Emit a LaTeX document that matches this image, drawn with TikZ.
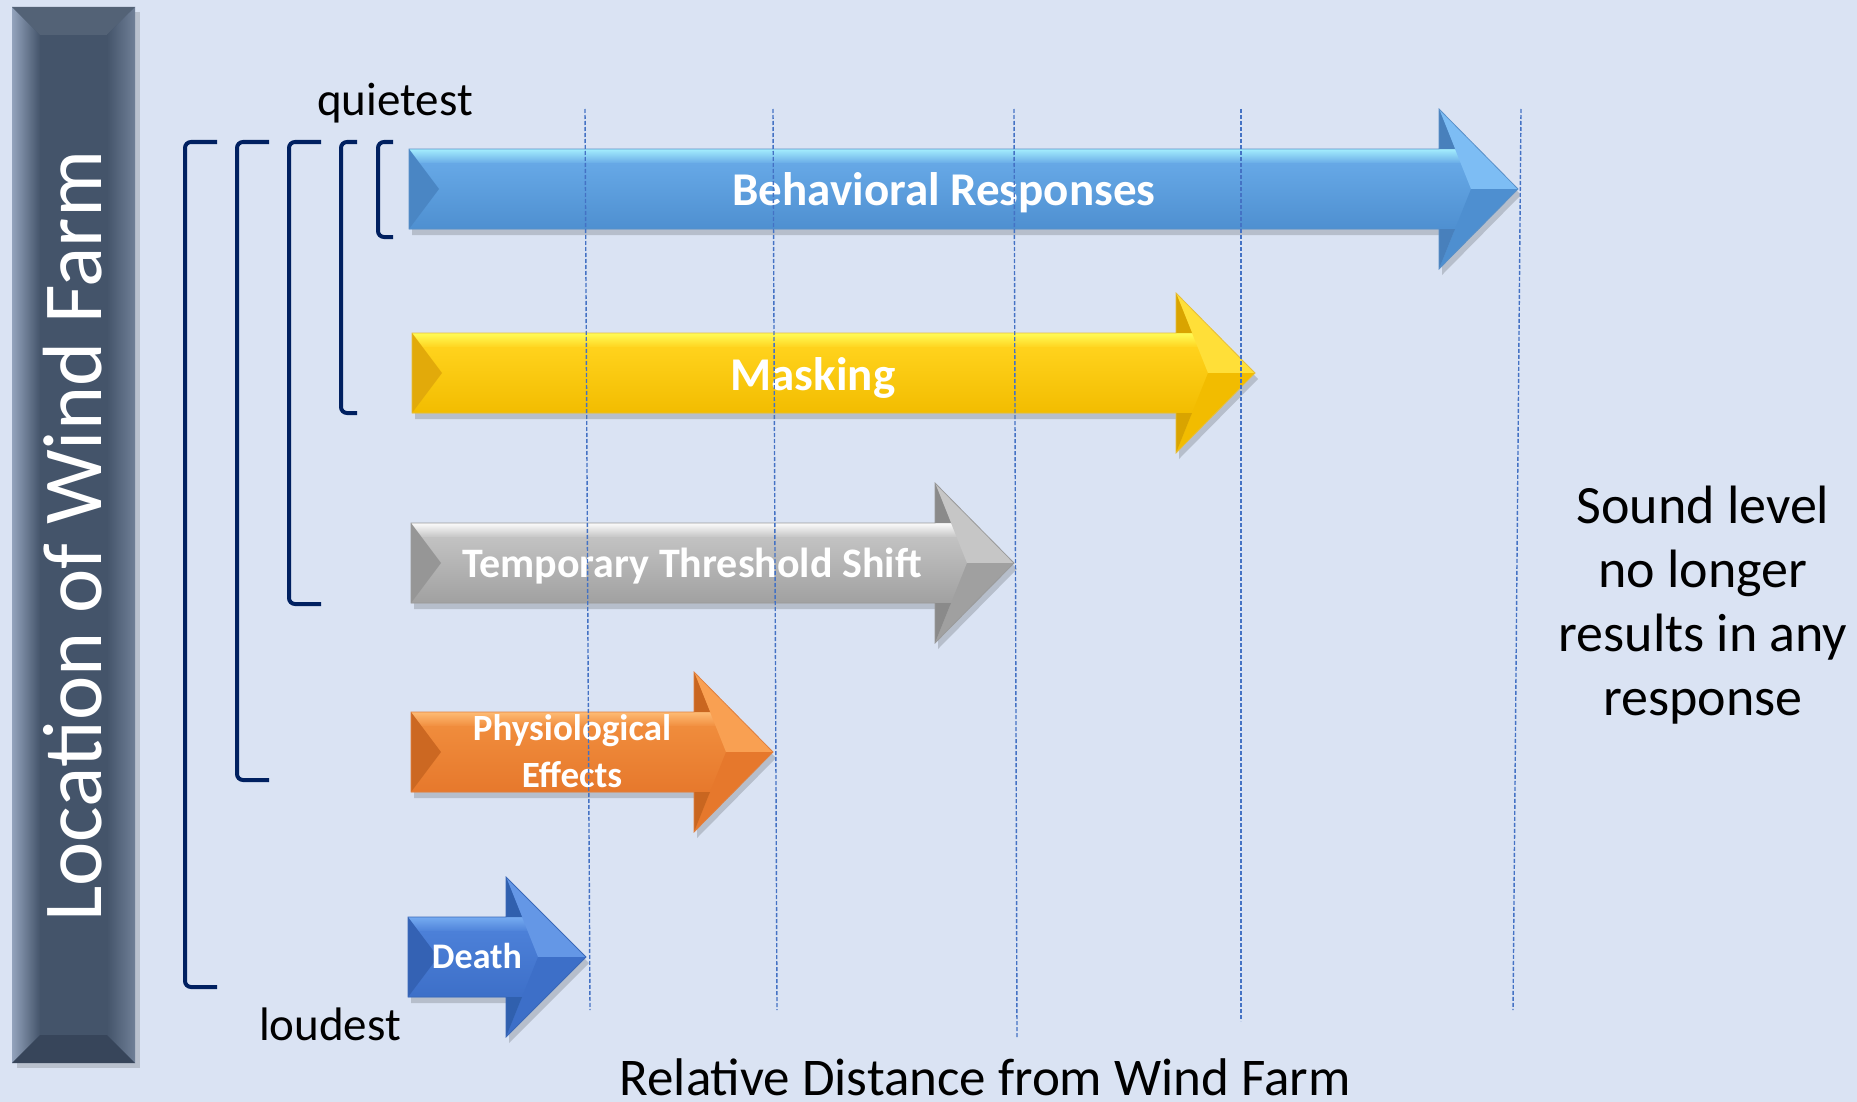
\documentclass[tikz,border=0pt]{standalone}
\usepackage{fontspec}
\setmainfont{Carlito}

\definecolor{bg}{HTML}{DAE3F3}
\definecolor{slate}{HTML}{44546A}
\definecolor{slatelight}{HTML}{93A3BC}
\definecolor{slatedark}{HTML}{37455A}
\definecolor{navy}{HTML}{002060}
\definecolor{guideblue}{HTML}{4472C4}

% colour sets: hi, mid, lo, face, ear, tail, edge
\definecolor{behavhi}{HTML}{A8F2FF}  \definecolor{behavmid}{HTML}{66A8E6}
\definecolor{behavlo}{HTML}{4E8FD0}  \definecolor{behavface}{HTML}{7DBDF4}
\definecolor{behavear}{HTML}{4880BC} \definecolor{behavtail}{HTML}{4A86C4}
\definecolor{behavedge}{HTML}{5A90C8}
\definecolor{maskhi}{HTML}{FFFF5C}   \definecolor{maskmid}{HTML}{FFD21C}
\definecolor{masklo}{HTML}{F2BC00}   \definecolor{maskface}{HTML}{FFDF38}
\definecolor{maskear}{HTML}{D9A400}  \definecolor{masktail}{HTML}{E2AA0A}
\definecolor{maskedge}{HTML}{E6BE3C}
\definecolor{ttshi}{HTML}{FFFFFF}    \definecolor{ttsmid}{HTML}{C2C2C2}
\definecolor{ttslo}{HTML}{A0A0A0}    \definecolor{ttsface}{HTML}{C6C6C6}
\definecolor{ttsear}{HTML}{8A8A8A}   \definecolor{ttstail}{HTML}{969696}
\definecolor{ttsedge}{HTML}{9A9A9A}
\definecolor{physhi}{HTML}{FFBE78}   \definecolor{physmid}{HTML}{F08C3C}
\definecolor{physlo}{HTML}{E6782C}   \definecolor{physface}{HTML}{F9A052}
\definecolor{physear}{HTML}{C96620}  \definecolor{phystail}{HTML}{CC6822}
\definecolor{physedge}{HTML}{E08040}
\definecolor{deathhi}{HTML}{78AEF2}  \definecolor{deathmid}{HTML}{4C80D8}
\definecolor{deathlo}{HTML}{3D6FC8}  \definecolor{deathface}{HTML}{6497E6}
\definecolor{deathear}{HTML}{3060AE} \definecolor{deathtail}{HTML}{3462B4}
\definecolor{deathedge}{HTML}{3A68B8}

% #1 tail x, #2 head x, #3 tip x, #4 centre y, #5 colour set
\newcommand{\arrowoutline}[4]{(#1,#4-40) -- (#2,#4-40) -- (#2,#4-80) -- (#3,#4)
  -- (#2,#4+80) -- (#2,#4+40) -- (#1,#4+40) -- cycle}
\newcommand{\blockarrow}[5]{%
  \fill[black,opacity=.16,shift={(3,6)}] \arrowoutline{#1}{#2}{#3}{#4};
  \begin{scope}
    \clip \arrowoutline{#1}{#2}{#3}{#4};
    \fill[#5mid] \arrowoutline{#1}{#2}{#3}{#4};
    \shade[top color=#5hi,bottom color=#5mid] (#1,#4-41) rectangle (#3,#4-25);
    \shade[top color=#5mid,bottom color=#5lo] (#1,#4-25.5) rectangle (#3,#4+41);
    \fill[#5face] (#2,#4-80) -- (#3,#4) -- (#2+32,#4) -- cycle;
    \fill[#5lo] (#2,#4+80) -- (#3,#4) -- (#2+32,#4) -- cycle;
    \fill[#5ear] (#2,#4-80) -- (#2+16,#4-40) -- (#2,#4-40) -- cycle;
    \fill[#5ear] (#2,#4+80) -- (#2+16,#4+40) -- (#2,#4+40) -- cycle;
    \fill[#5tail] (#1,#4-40) -- (#1+30,#4) -- (#1,#4+40) -- cycle;
  \end{scope}
  \draw[#5edge,line width=.4pt] \arrowoutline{#1}{#2}{#3}{#4};
}

\begin{document}
\begin{tikzpicture}[x=0.5pt,y=-0.5pt]
  \tikzstyle{bracket}=[draw=navy,line width=2pt,rounded corners=3pt]
  \tikzstyle{guide}=[draw=guideblue,line width=0.7pt,dash pattern=on 2pt off 1pt]
  \tikzstyle{arrowlabel}=[text=white,anchor=base,inner sep=0pt,font=\bfseries\fontsize{23.5}{28}\selectfont]
  \tikzstyle{plain}=[text=black,inner sep=0pt,font=\fontsize{23.5}{28}\selectfont]
  \useasboundingbox (0,0) rectangle (1857,1102);
  \fill[bg] (0,0) rectangle (1857,1102);

  \fill[black,opacity=.15] (17,12) rectangle (140,1068);
  \fill[slate] (12,7) rectangle (135,1063);
  \shade[left color=slatelight,right color=slate] (12,7) -- (40,35) -- (40,1035) -- (12,1063) -- cycle;
  \fill[slate!92!white] (12,7) -- (135,7) -- (107,35) -- (40,35) -- cycle;
  \shade[left color=slate,right color=slatelight!55!slate] (107,35) -- (135,7) -- (135,1063) -- (107,1035) -- cycle;
  \fill[slatedark] (12,1063) -- (40,1035) -- (107,1035) -- (135,1063) -- cycle;
  \node[rotate=90,anchor=base,text=white,inner sep=0pt,font=\fontsize{42}{50}\selectfont] (farm) at (101,536) {Location of Wind Farm};

  \foreach \bx/\bend/\bbot in {185/217/987, 237/269/780, 289/321/604, 341/357/413, 378/393/237}
    \draw[bracket] (\bend,142) -- (\bx,142) -- (\bx,\bbot) -- (\bend,\bbot);

  \blockarrow{409}{1439}{1518}{189}{behav}
  \blockarrow{412}{1176}{1255}{373}{mask}
  \blockarrow{411}{935}{1014}{563}{tts}
  \blockarrow{411}{694}{773}{752}{phys}
  \blockarrow{408}{506}{586}{957}{death}

  \node[arrowlabel] (behav) at (944,205) {Behavioral Responses};
  \node[arrowlabel] (mask) at (813,390) {Masking};
  \node[arrowlabel,font=\bfseries\fontsize{21}{25}\selectfont] (tts) at (692,577) {Temporary Threshold Shift};
  \node[arrowlabel,align=center,font=\bfseries\fontsize{18.5}{23.5}\selectfont] (phys) at (572,787) {Physiological\\Effects};
  \node[arrowlabel,font=\bfseries\fontsize{18}{22}\selectfont] (death) at (477,968) {Death};

  \foreach \gt/\gb/\gy in {585/590/1010, 773/777/1010, 1014/1017/1037, 1241/1241/1021, 1521/1513/1010}
    \draw[guide] (\gt,109) -- (\gb,\gy);

  \node[plain,anchor=base] (quiet) at (395,116) {quietest};
  \node[plain,anchor=base] (loud) at (330,1040) {loudest};
  \node[plain,anchor=base,font=\fontsize{26.5}{32}\selectfont] (distance) at (985,1095) {Relative Distance from Wind Farm};
  \node[plain,align=center,font=\fontsize{27}{32}\selectfont] (noresponse) at (1703,605) {Sound level\\no longer\\results in any\\response};
\end{tikzpicture}
\end{document}
